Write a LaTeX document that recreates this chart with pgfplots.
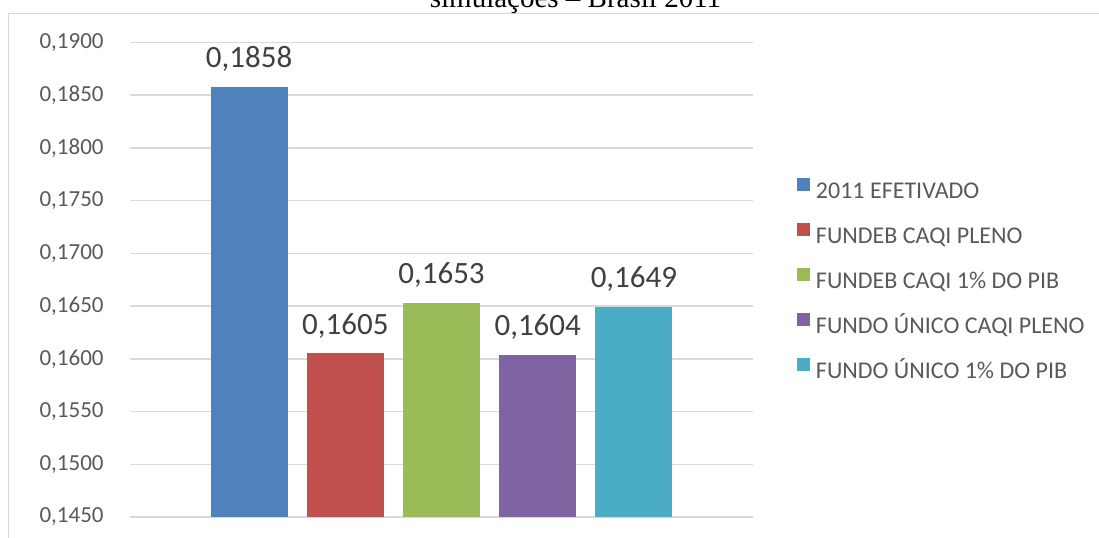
\documentclass[border=0pt]{standalone}
\usepackage{pgfplots}
\pgfplotsset{compat=1.18}
\usepackage{fontspec}
\setmainfont{Carlito}
\newfontfamily\titlefont{Liberation Serif}

\definecolor{cBlue}{HTML}{4F81BD}
\definecolor{cRed}{HTML}{C0504D}
\definecolor{cGreen}{HTML}{9BBB59}
\definecolor{cPurple}{HTML}{8064A2}
\definecolor{cCyan}{HTML}{4BACC6}
\definecolor{gridgray}{HTML}{D9D9D9}
\definecolor{ticktext}{HTML}{595959}
\definecolor{labeltext}{HTML}{404040}

\begin{document}
\begin{tikzpicture}
% page frame
\path[use as bounding box, clip] (0,0) rectangle (549.5pt,268.5pt);
\draw[gridgray, line width=0.75pt] (4.25pt,-5pt) -- (4.25pt,261.75pt) -- (560pt,261.75pt);
\node[anchor=base, inner sep=0pt, font=\titlefont\fontsize{14.5}{16}\selectfont] at (287.75pt,265pt) {simulações – Brasil 2011};

\begin{axis}[
  at={(65pt,10pt)}, anchor=south west,
  scale only axis,
  width=311.5pt, height=237.35pt,
  xmin=-0.238, xmax=6.238,
  ymin=0.145, ymax=0.19,
  ytick={0.145,0.150,0.155,0.160,0.165,0.170,0.175,0.180,0.185,0.190},
  xtick=\empty,
  ymajorgrids,
  grid style={gridgray, line width=0.75pt},
  axis line style={draw=none},
  major tick length=0pt,
  /pgf/number format/assume math mode=true,
  yticklabel style={
    /pgf/number format/.cd, fixed, fixed zerofill, precision=4, use comma,
    /tikz/.cd, font=\fontsize{11.5}{13}\selectfont, text=ticktext,
    inner sep=0pt, xshift=-13pt},
  ybar,
  bar width=38.5pt,
  nodes near coords={\pgfmathprintnumber[fixed,fixed zerofill,precision=4,use comma,assume math mode=true]{\pgfplotspointmeta}},
  nodes near coords style={font=\fontsize{15.5}{18}\selectfont, text=labeltext, anchor=south, inner sep=0pt, yshift=7.5pt},
  legend image code/.code={\fill[#1] (0pt,0pt) rectangle (6.5pt,6.5pt);},
  legend cell align=left,
  legend style={
    at={(1.0706,0.7148)}, anchor=north west,
    draw=none, fill=none, inner sep=0pt, outer sep=0pt,
    row sep=12pt, column sep=3pt,
    font=\fontsize{12}{14}\selectfont, text=ticktext,
    nodes={inner sep=0pt, text height=8pt, text depth=0pt}},
]
\addplot[fill=cBlue, draw=none, bar shift=0pt] coordinates {(1,0.1858)};
\addplot[fill=cRed, draw=none, bar shift=0pt] coordinates {(2,0.1605)};
\addplot[fill=cGreen, draw=none, bar shift=0pt] coordinates {(3,0.1653)};
\addplot[fill=cPurple, draw=none, bar shift=0pt] coordinates {(4,0.1604)};
\addplot[fill=cCyan, draw=none, bar shift=0pt] coordinates {(5,0.1649)};
\legend{2011 EFETIVADO, FUNDEB CAQI PLENO, FUNDEB CAQI 1\% DO PIB, FUNDO ÚNICO CAQI PLENO, FUNDO ÚNICO 1\% DO PIB}
\end{axis}
\end{tikzpicture}
\end{document}
